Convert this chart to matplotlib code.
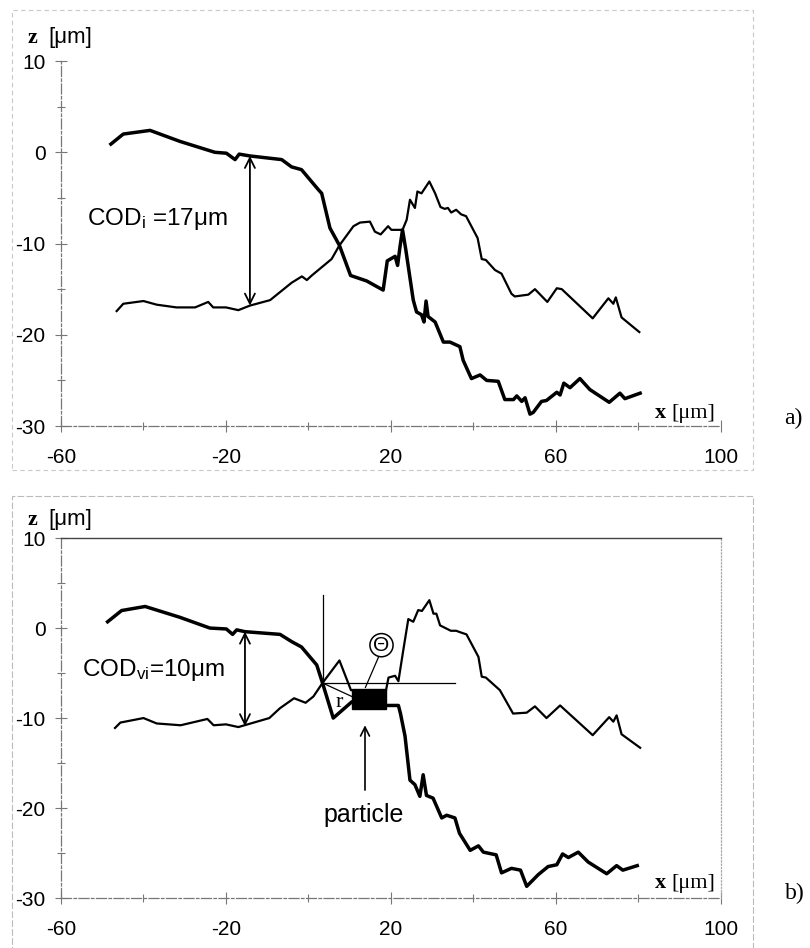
import numpy as np
import matplotlib
matplotlib.use('Agg')
import matplotlib.pyplot as plt
from matplotlib.patches import Rectangle

plt.rcParams['font.family'] = ['Liberation Sans', 'DejaVu Sans']
plt.rcParams['mathtext.fontset'] = 'custom'
plt.rcParams['mathtext.rm'] = 'Liberation Sans'
plt.rcParams['mathtext.it'] = 'Liberation Sans:italic'
plt.rcParams['mathtext.bf'] = 'Liberation Sans:bold'

# ---- panel a): crack profiles (upper flank thick, lower flank thin) ----
a_thick_x = [-47.9, -44.9, -38.4, -31.2, -22.7, -19.9, -17.8, -16.8, -14.2, -6.5, -4.1, -1.7,
             2.4, 3.2, 5.2, 7.5, 10.2, 14.1, 18.1, 19.1, 21.0, 21.6, 22.2, 22.8, 23.6, 25.4,
             26.2, 27.4, 28.0, 28.5, 29.0, 30.7, 32.7, 34.3, 36.7, 37.5, 39.5, 41.6, 43.2,
             46.0, 47.6, 49.7, 50.5, 51.7, 52.5, 53.7, 54.5, 56.5, 57.7, 60.2, 61.0, 61.9,
             63.4, 65.8, 68.2, 72.9, 75.5, 76.7, 80.4]
a_thick_z = [0.9, 2.0, 2.4, 1.2, 0.0, -0.1, -0.8, -0.2, -0.4, -0.8, -1.6, -1.9,
             -4.1, -4.5, -8.3, -10.2, -13.5, -14.1, -15.1, -11.9, -11.4, -12.4, -10.3, -8.5, -10.7, -16.2,
             -17.5, -17.8, -18.6, -16.3, -18.0, -18.6, -20.8, -20.8, -21.3, -22.8, -24.8, -24.4, -25.0,
             -25.1, -27.1, -27.1, -26.7, -27.3, -26.9, -28.7, -28.5, -27.3, -27.2, -26.3, -26.6, -25.3,
             -25.8, -24.8, -26.0, -27.4, -26.4, -27.0, -26.4]

a_thin_x = [-46.5, -44.9, -40.0, -36.8, -32.0, -27.5, -24.3, -23.1, -20.0, -17.0, -14.2, -9.3,
            -4.1, -1.6, -0.4, 0.8, 5.6, 7.5, 10.9, 12.5, 14.9, 16.1, 17.5, 19.3, 20.1, 22.8,
            23.8, 24.6, 25.8, 26.4, 27.4, 29.3, 30.7, 32.0, 33.0, 33.8, 34.6, 35.8, 37.0, 38.2,
            41.0, 42.0, 43.0, 45.2, 46.8, 49.2, 50.0, 53.3, 54.9, 57.9, 60.2, 61.4, 68.9,
            72.7, 73.9, 74.5, 75.9, 80.2]
a_thin_z = [-17.4, -16.6, -16.3, -16.7, -17.0, -17.0, -16.4, -17.0, -17.0, -17.3, -16.8, -16.2,
            -14.3, -13.6, -14.0, -13.5, -11.7, -10.2, -8.1, -7.7, -7.6, -8.7, -9.0, -8.1, -8.5, -8.5,
            -7.4, -5.2, -6.1, -4.3, -4.5, -3.2, -4.5, -6.0, -6.2, -6.1, -6.6, -6.3, -6.8, -7.0,
            -9.4, -11.7, -11.8, -12.9, -13.3, -15.5, -15.8, -15.6, -15.0, -16.4, -14.9, -15.0, -18.2,
            -16.0, -16.6, -15.9, -18.1, -19.7]

# ---- panel b): profiles with particle ----
b_thick_x = [-48.7, -45.3, -39.6, -31.2, -23.9, -19.9, -18.4, -17.4, -15.4, -6.9, -4.1, -1.7,
             2.0, 3.4, 6.0, 10.5, 18.8, 21.8, 22.3, 23.4, 24.6, 25.8, 27.0, 27.8, 28.6, 30.2,
             32.3, 33.5, 35.5, 36.6, 39.2, 41.2, 42.4, 45.5, 46.8, 49.2, 51.4, 52.9, 55.7,
             58.1, 60.2, 61.6, 63.0, 65.4, 67.8, 72.3, 74.7, 76.2, 79.7]
b_thick_z = [0.7, 1.95, 2.4, 1.2, 0.0, -0.1, -0.7, -0.2, -0.4, -0.7, -1.5, -2.1,
             -4.1, -6.1, -10.0, -8.2, -8.6, -8.6, -9.5, -12.0, -16.9, -17.4, -18.7, -16.3, -18.6, -18.9,
             -21.1, -20.8, -21.1, -22.8, -24.7, -24.2, -24.9, -25.2, -27.2, -26.7, -26.9, -28.7, -27.4,
             -26.5, -26.3, -25.1, -25.5, -24.9, -26.0, -27.3, -26.4, -26.9, -26.4]

b_thin_x = [-46.9, -45.6, -40.0, -36.8, -31.0, -24.5, -23.0, -20.0, -17.0, -9.5, -6.9, -3.5,
            -0.7, 1.2, 3.4, 7.5, 10.3, 18.8, 19.4, 21.0, 21.8, 23.0, 24.2, 25.4, 26.6, 27.5,
            29.3, 30.3, 31.0, 31.9, 33.2, 34.5, 35.8, 37.0, 38.3, 41.2, 42.0, 43.0, 46.4,
            49.6, 52.9, 54.9, 57.7, 61.0, 68.9, 72.9, 73.9, 74.7, 75.9, 80.4]
b_thin_z = [-11.1, -10.5, -10.0, -10.6, -10.8, -10.1, -10.8, -10.7, -11.0, -10.0, -8.9, -7.8,
            -8.3, -7.6, -6.1, -3.6, -6.9, -6.9, -5.5, -5.3, -5.9, -2.4, 1.0, 0.7, 2.0, 1.9,
            3.1, 1.6, 1.6, 0.3, 0.0, -0.3, -0.3, -0.5, -0.7, -3.2, -5.4, -5.5, -6.9,
            -9.5, -9.4, -8.7, -10.0, -8.6, -11.9, -9.9, -10.4, -9.7, -11.8, -13.3]

# annotations
cod_a = (-14.2, -0.4, -16.8)   # x, z top, z bottom
cod_b = (-15.4, -0.4, -10.9)
particle_x = (10.5, 18.8)
particle_z = (-9.0, -6.8)
crack_tip = (3.4, -6.1)
vert_top = 3.7
horiz_end = 35.5
r_end = (10.5, -7.6)
theta_pos = (17.7, -1.9)
theta_leader = ((17.0, -3.2), (13.8, -6.6))
particle_arrow = (13.7, -18.0, -10.8)

fig = plt.figure(figsize=(8.1, 9.48), dpi=100)
ax1 = fig.add_axes([0.0753, 0.5506, 0.8148, 0.385])
ax2 = fig.add_axes([0.0753, 0.0527, 0.8148, 0.3797])

grey = '#777777'


def style(ax):
    ax.set_xlim(-60, 100)
    ax.set_ylim(-30, 10)
    ax.set_xticks([-60, -20, 20, 60, 100])
    ax.set_xticks(np.arange(-60, 101, 20), minor=True)
    ax.set_yticks([-30, -20, -10, 0, 10])
    ax.set_yticks(np.arange(-30, 11, 5), minor=True)
    for s in ['left', 'bottom']:
        ax.spines[s].set_color(grey)
        ax.spines[s].set_linestyle((0, (8, 2, 2, 2)))
        ax.spines[s].set_linewidth(0.9)
    ax.tick_params(which='both', direction='inout', color=grey, width=0.8)
    ax.tick_params(which='major', length=8, labelsize=15)
    ax.tick_params(which='minor', length=6)
    ax.tick_params(axis='x', pad=12)
    ax.tick_params(axis='y', pad=7)
    ax.set_yticklabels(['-30', '-20', '-10', '0', '10'])
    ax.set_xticklabels(['-60', '-20', '20', '60', '100'])


style(ax1)
style(ax2)
ax1.spines['top'].set_visible(False)
ax1.spines['right'].set_visible(False)
ax2.spines['top'].set_color('#444444')
ax2.spines['top'].set_linewidth(1.0)
ax2.spines['right'].set_color('#aaaaaa')
ax2.spines['right'].set_linestyle(':')
ax2.spines['right'].set_linewidth(0.9)

# curves
ax1.plot(a_thick_x, a_thick_z, color='black', lw=2.5)
ax1.plot(a_thin_x, a_thin_z, color='black', lw=1.6)
ax2.plot(b_thick_x, b_thick_z, color='black', lw=2.5)
ax2.plot(b_thin_x, b_thin_z, color='black', lw=1.6)

# COD arrows
arrow = dict(arrowstyle='<->', color='black', lw=1.3, mutation_scale=18, shrinkA=0, shrinkB=0)
ax1.annotate('', xy=(cod_a[0], cod_a[1]), xytext=(cod_a[0], cod_a[2]), arrowprops=arrow)
ax2.annotate('', xy=(cod_b[0], cod_b[1]), xytext=(cod_b[0], cod_b[2]), arrowprops=arrow)
ax1.text(-36.7, -7.3, r'COD$_{\rm i}$ =17μm', fontsize=17.5, ha='center', va='center')
ax2.text(-37.5, -4.7, r'COD$_{\rm vi}$=10μm', fontsize=17.5, ha='center', va='center')

# particle construction in panel b
ax2.add_patch(Rectangle((particle_x[0], particle_z[0]), particle_x[1] - particle_x[0],
                        particle_z[1] - particle_z[0], color='black', zorder=3))
ax2.plot([crack_tip[0], crack_tip[0]], [crack_tip[1], vert_top], color='black', lw=0.9)
ax2.plot([crack_tip[0], horiz_end], [crack_tip[1], crack_tip[1]], color='black', lw=0.9)
ax2.plot([crack_tip[0], r_end[0]], [crack_tip[1], r_end[1]], color='black', lw=0.9)
ax2.text(7.4, -8.3, 'r', fontsize=16, family='Liberation Serif', ha='center', va='center')
ax2.plot([theta_leader[0][0], theta_leader[1][0]], [theta_leader[0][1], theta_leader[1][1]],
         color='black', lw=0.9)
ax2.text(theta_pos[0], theta_pos[1], 'Θ', fontsize=15, ha='center', va='center',
         bbox=dict(boxstyle='circle,pad=0.1', fc='white', ec='black', lw=1.1))
ax2.annotate('', xy=(particle_arrow[0], particle_arrow[2]), xytext=(particle_arrow[0], particle_arrow[1]),
             arrowprops=dict(arrowstyle='->', color='black', lw=1.2, mutation_scale=16,
                             shrinkA=0, shrinkB=0))
ax2.text(13.4, -20.8, 'particle', fontsize=18, ha='center', va='center')

# axis labels
for ax, zy, xy in [(ax1, 12.0, -29.1), (ax2, 11.4, -28.9)]:
    ax.text(-68.0, zy, 'z', fontsize=16, family='Liberation Serif', fontweight='bold',
            ha='left', va='baseline', clip_on=False)
    ax.text(-63.0, zy, '[μm]', fontsize=16, ha='left', va='baseline', clip_on=False)
    ax.text(84.0, xy, 'x', fontsize=16, family='Liberation Serif', fontweight='bold',
            ha='left', va='baseline', clip_on=False)
    ax.text(98.6, xy, '[μm]', fontsize=16, family='Liberation Serif',
            ha='right', va='baseline', clip_on=False)

fig.text(0.979, 0.559, 'a)', fontsize=17, family='Liberation Serif', ha='center', va='center')
fig.text(0.981, 0.058, 'b)', fontsize=17, family='Liberation Serif', ha='center', va='center')

# faint panel frames of the original scan
fig.add_artist(Rectangle((12 / 810, 1 - 470 / 948), 741 / 810, 460 / 948, transform=fig.transFigure,
                         fill=False, ec='#c8c8c8', lw=0.8, ls=(0, (4, 3))))
fig.add_artist(Rectangle((12 / 810, -0.01), 741 / 810, 1 - 496 / 948 + 0.01, transform=fig.transFigure,
                         fill=False, ec='#bbbbbb', lw=0.8, ls=(0, (6, 2))))

fig.savefig('out.png', dpi=100)
